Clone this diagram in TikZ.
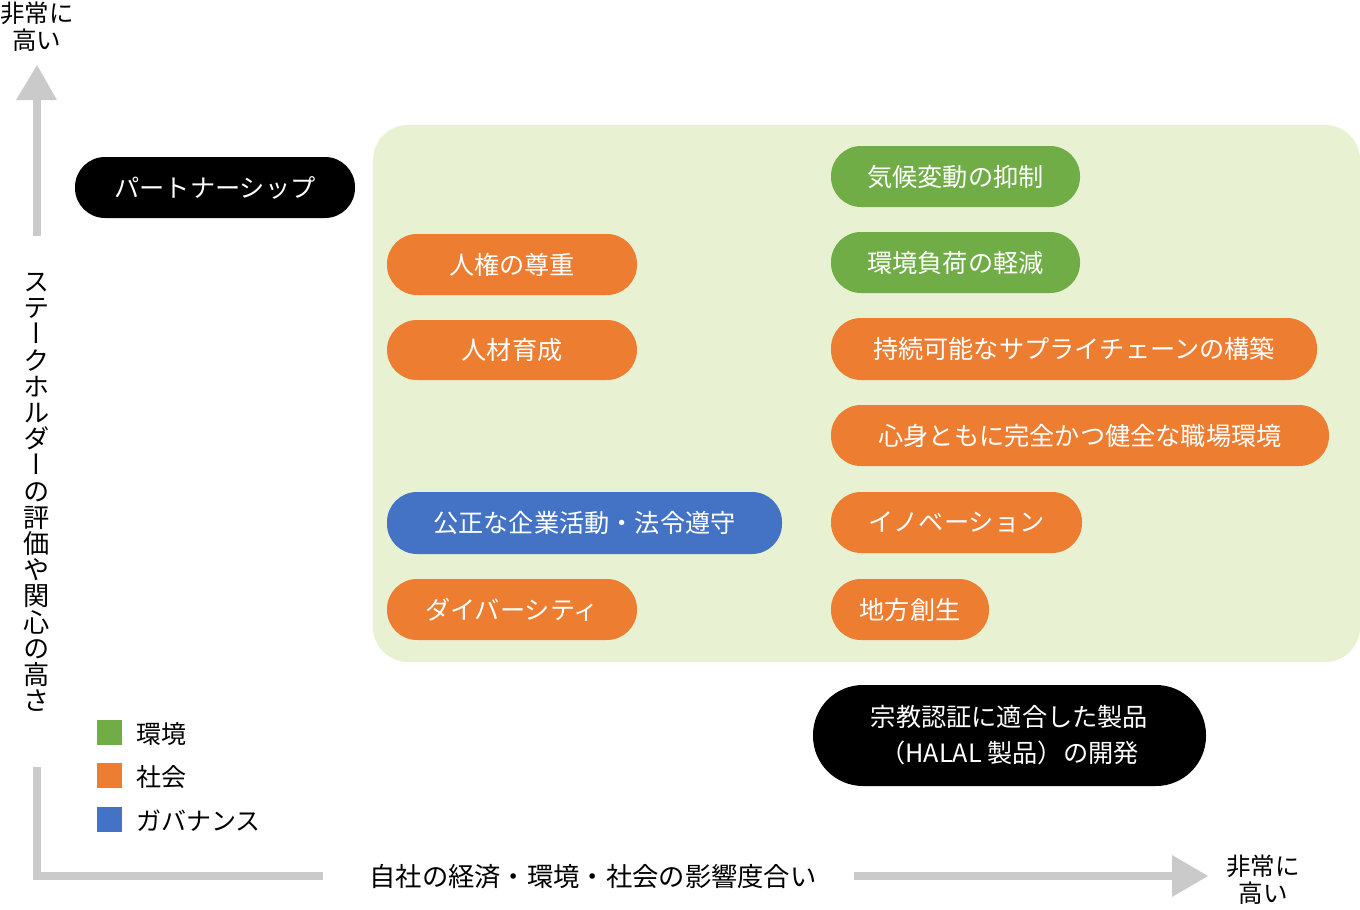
\documentclass[tikz,border=0pt]{standalone}
\usepackage{fontspec}
\setmainfont{Noto Sans CJK JP}
\newfontfamily\vertfont[RawFeature=+vert]{Noto Sans CJK JP}
\definecolor{cgreen}{HTML}{70AD47}
\definecolor{corange}{HTML}{ED7D31}
\definecolor{cblue}{HTML}{4472C4}
\definecolor{cbg}{HTML}{E8F2D3}
\definecolor{cgray}{HTML}{C9CAC9}
\begin{document}
\begin{tikzpicture}[x=1pt,y=-1pt,
  pill/.style={rectangle, rounded corners=30pt, inner sep=0pt, text=white,
    font=\fontsize{25.2}{29}\selectfont, minimum height=61pt},
  lbl/.style={inner sep=0pt, text=black, align=center},
  legsq/.style={rectangle, inner sep=0pt, minimum size=25pt}]
\useasboundingbox (0,0) rectangle (1360,910);
% background panel
\fill[cbg, rounded corners=35pt] (373,125) rectangle (1360,662);
% axes
\fill[cgray] (33,236) rectangle (41,98);
\fill[cgray] (16,100) -- (37,65) -- (57,100) -- cycle;
\draw[cgray, line width=8pt, line join=miter] (37,767) -- (37,876) -- (323,876);
\fill[cgray] (854,872) rectangle (1174,880);
\fill[cgray] (1172,855) -- (1208,876) -- (1172,897) -- cycle;
% axis labels
\node[lbl, font=\fontsize{24.5}{27}\selectfont] (ytop) at (37,27) {非常に\\高い};
\node[lbl, font=\fontsize{24.5}{27}\selectfont] (xend) at (1263,880) {非常に\\高い};
\node[lbl, font=\fontsize{26.3}{30}\selectfont] (xlab) at (593,877) {自社の経済・環境・社会の影響度合い};
\node[lbl, font=\vertfont\fontsize{26.2}{26.2}\selectfont] (ylab) at (37,492.5)
  {ス\\テ\\ー\\ク\\ホ\\ル\\ダ\\ー\\の\\評\\価\\や\\関\\心\\の\\高\\さ};
% items
\node[pill, fill=black, minimum width=280pt] (partner) at (215,187.5) {パートナーシップ};
\node[pill, fill=corange, minimum width=250pt] (jinken) at (512,264.5) {人権の尊重};
\node[pill, fill=corange, minimum width=250pt, minimum height=60pt] (jinzai) at (512,350) {人材育成};
\node[pill, fill=cblue, minimum width=395pt, minimum height=62pt] (kosei) at (584.5,523) {公正な企業活動・法令遵守};
\node[pill, fill=corange, minimum width=250pt] (diversity) at (512,609.5) {ダイバーシティ};
\node[pill, fill=cgreen, minimum width=249pt] (kiko) at (955.5,176.5) {気候変動の抑制};
\node[pill, fill=cgreen, minimum width=249pt] (kankyo) at (955.5,262.5) {環境負荷の軽減};
\node[pill, fill=corange, minimum width=486pt, minimum height=62pt] (supply) at (1074,349) {持続可能なサプライチェーンの構築};
\node[pill, fill=corange, minimum width=498pt] (shinshin) at (1080,435.5) {心身ともに完全かつ健全な職場環境};
\node[pill, fill=corange, minimum width=251pt] (innov) at (956.5,522.5) {イノベーション};
\node[pill, fill=corange, minimum width=158pt] (chiho) at (910,609.5) {地方創生};
\node[pill, fill=black, minimum width=393pt, minimum height=101pt, rounded corners=50pt,
  align=center, font=\fontsize{25.2}{36}\selectfont] (halal) at (1009.5,735.5)
  {宗教認証に適合した製品\\（HALAL 製品）の開発};
% legend
\node[legsq, fill=cgreen] (lg1) at (109.5,732.5) {};
\node[legsq, fill=corange] (lg2) at (109.5,775.5) {};
\node[legsq, fill=cblue] (lg3) at (109.5,819.5) {};
\node[lbl, anchor=west, font=\fontsize{25}{29}\selectfont] (lt1) at (136,734) {環境};
\node[lbl, anchor=west, font=\fontsize{25}{29}\selectfont] (lt2) at (136,777) {社会};
\node[lbl, anchor=west, font=\fontsize{25}{29}\selectfont] (lt3) at (136,821) {ガバナンス};
\end{tikzpicture}
\end{document}
